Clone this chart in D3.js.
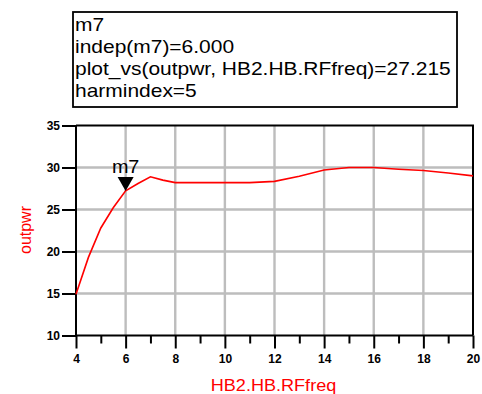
<!DOCTYPE html>
<html>
<head>
<meta charset="utf-8">
<script src="https://cdn.jsdelivr.net/npm/d3@7"></script>
<style>
  html, body { margin: 0; padding: 0; background: #fff; }
  svg { display: block; }
</style>
</head>
<body>
<svg id="chart" width="482" height="394"></svg>
<script>
// Harmonic-balance sweep: output power versus RF frequency
const freq   = [4, 4.5, 5, 5.5, 6, 6.5, 7, 7.5, 8, 9, 10, 11, 12, 13, 14, 15, 16, 17, 18, 19, 20];
const outpwr = [14.9, 19.3, 22.8, 25.2, 27.215, 28.1, 28.9, 28.5, 28.2, 28.2, 28.2, 28.2, 28.35, 28.95, 29.7, 30.0, 30.0, 29.8, 29.65, 29.35, 29.0];

const xTicks = [4, 6, 8, 10, 12, 14, 16, 18, 20];
const xMinorTicks = [5, 7, 9, 11, 13, 15, 17, 19];
const yTicks = [10, 15, 20, 25, 30, 35];

const markerName = "m7";
const markerX = 6.0;
const markerY = 27.215;
const markerLines = [
  "m7",
  "indep(m7)=6.000",
  "plot_vs(outpwr, HB2.HB.RFfreq)=27.215",
  "harmindex=5"
];
const xTitle = "HB2.HB.RFfreq";
const yTitle = "outpwr";

const svg = d3.select("#chart");
const plotL = 76, plotR = 473, plotT = 125.5, plotB = 335.5;

const x = d3.scaleLinear().domain([4, 20]).range([plotL, plotR]);
const y = d3.scaleLinear().domain([10, 35]).range([plotB, plotT]);

// grid lines, drawn as a single path per direction
const gridColor = "#bdbdbd";
const vGrid = xTicks.slice(1, -1).map(d => `M${x(d)},${plotT}V${plotB}`).join("");
const hGrid = yTicks.slice(1, -1).map(d => `M${plotL},${y(d)}H${plotR}`).join("");
svg.append("path").attr("class", "grid")
  .attr("d", vGrid + hGrid)
  .attr("fill", "none").attr("stroke", gridColor).attr("stroke-width", 2.4);

// frame (top and right)
svg.append("path")
  .attr("d", `M${plotL},${plotT}H${plotR}V${plotB}`)
  .attr("fill", "none").attr("stroke", "#000").attr("stroke-width", 2);

const tickFont = "'Liberation Sans', Arial, sans-serif";

// left axis
const yAxis = d3.axisLeft(y).tickValues(yTicks).tickSize(14).tickPadding(2)
  .tickFormat(d3.format("d"));
const gy = svg.append("g").attr("transform", `translate(${plotL},0)`).call(yAxis);
gy.select(".domain").attr("stroke-width", 2).attr("d", `M0,${plotT}V${plotB}`);
gy.selectAll(".tick line").attr("stroke-width", 2);
gy.selectAll(".tick text")
  .attr("font-family", tickFont).attr("font-size", 12).attr("font-weight", "bold")
  .attr("fill", "#000");

// bottom axis, major and minor ticks
const xAxis = d3.axisBottom(x).tickValues(xTicks).tickSize(13).tickPadding(6)
  .tickFormat(d3.format("d"));
const gx = svg.append("g").attr("transform", `translate(0,${plotB})`).call(xAxis);
gx.select(".domain").attr("stroke-width", 2).attr("d", `M${plotL},0H${plotR}`);
gx.selectAll(".tick line").attr("stroke-width", 2);
gx.selectAll(".tick text")
  .attr("font-family", tickFont).attr("font-size", 12).attr("font-weight", "bold")
  .attr("fill", "#000");
const gxMinor = svg.append("g").attr("transform", `translate(0,${plotB})`)
  .call(d3.axisBottom(x).tickValues(xMinorTicks).tickSize(8).tickFormat(""));
gxMinor.select(".domain").remove();
gxMinor.selectAll(".tick line").attr("stroke-width", 2);

// data curve
const line = d3.line().x((d, i) => x(freq[i])).y(d => y(d));
svg.append("path")
  .datum(outpwr)
  .attr("d", line)
  .attr("fill", "none").attr("stroke", "#ff0000").attr("stroke-width", 1.6);

// marker triangle and name
const mx = x(markerX), my = y(markerY);
svg.append("path")
  .attr("d", `M${mx},${my}L${mx - 8},${my - 14}L${mx + 8},${my - 14}Z`)
  .attr("fill", "#000");
svg.append("text")
  .attr("transform", `translate(${mx},${my - 18}) scale(1.1,1)`)
  .attr("text-anchor", "middle")
  .attr("font-family", tickFont).attr("font-size", 18)
  .attr("fill", "#000").text(markerName);

// marker readout box
svg.append("rect")
  .attr("x", 73).attr("y", 12).attr("width", 384).attr("height", 95)
  .attr("fill", "#fff").attr("stroke", "#000").attr("stroke-width", 1.8);
svg.append("g").selectAll("text").data(markerLines).join("text")
  .attr("transform", (d, i) => `translate(75,${31 + i * 22}) scale(1.165,1)`)
  .attr("font-family", tickFont).attr("font-size", 18)
  .attr("fill", "#000").text(d => d);

// axis titles
svg.append("text")
  .attr("transform", `translate(${(plotL + plotR) / 2 - 1},391) scale(1.13,1)`)
  .attr("text-anchor", "middle")
  .attr("font-family", tickFont).attr("font-size", 16)
  .attr("fill", "#ff0000").text(xTitle);
svg.append("text")
  .attr("transform", `translate(31,230) rotate(-90)`)
  .attr("text-anchor", "middle")
  .attr("font-family", tickFont).attr("font-size", 16)
  .attr("fill", "#ff0000").text(yTitle);
</script>
</body>
</html>
